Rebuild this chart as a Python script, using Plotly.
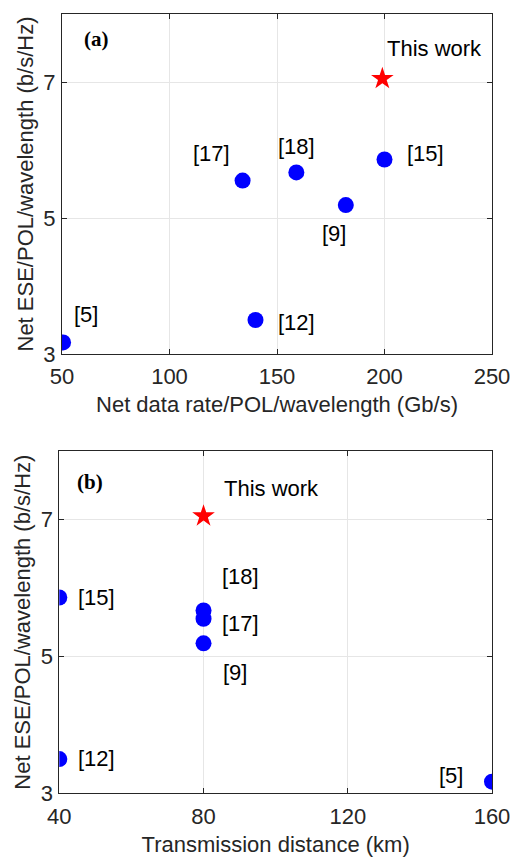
import plotly.graph_objects as go

# ---- data ----
refs = ["[5]", "[12]", "[9]", "[15]", "[17]", "[18]"]
ese = [3.17, 3.50, 5.19, 5.86, 5.55, 5.67]
rate = [50.5, 140, 182, 200, 134, 159]
dist = [160, 40, 80, 40, 80, 80]
this_label = "This work"
this_ese = 7.05
this_rate = 199
this_dist = 80

x1_ticks = [50, 100, 150, 200, 250]
x2_ticks = [40, 80, 120, 160]
y_ticks = [3, 5, 7]

# label offsets in pixels (dx, dy up) per reference for each panel
off_a = {"[5]": (23, 28), "[12]": (41, -2), "[9]": (-12, -28), "[15]": (41, 6),
         "[17]": (-31, 27), "[18]": (0, 26), this_label: (52, 30)}
off_b = {"[5]": (-41, 6), "[12]": (37, 1), "[9]": (31, -29), "[15]": (37, 0),
         "[17]": (37, -5), "[18]": (37, 34), this_label: (68, 28)}

W, H = 522, 858
FONT = "Liberation Sans, Arial, sans-serif"
AX = "#262626"
BLUE = "#0000FF"
RED = "#FF0000"

fig = go.Figure()
fig.add_trace(go.Scatter(x=rate, y=ese, mode="markers", xaxis="x", yaxis="y",
                         marker=dict(color=BLUE, size=16, symbol="circle"), showlegend=False))
fig.add_trace(go.Scatter(x=[this_rate], y=[this_ese], mode="markers", xaxis="x", yaxis="y",
                         marker=dict(color=RED, size=17, symbol="star"), showlegend=False))
fig.add_trace(go.Scatter(x=dist, y=ese, mode="markers", xaxis="x2", yaxis="y2",
                         marker=dict(color=BLUE, size=16, symbol="circle"), showlegend=False))
fig.add_trace(go.Scatter(x=[this_dist], y=[this_ese], mode="markers", xaxis="x2", yaxis="y2",
                         marker=dict(color=RED, size=17, symbol="star"), showlegend=False))

ann = []
for r, xv, yv in zip(refs + [this_label], rate + [this_rate], ese + [this_ese]):
    dx, dy = off_a[r]
    ann.append(dict(x=xv, y=yv, xref="x", yref="y", text=r, showarrow=False,
                    xanchor="center", yanchor="middle",
                    xshift=dx, yshift=dy, font=dict(family=FONT, size=22, color="black")))
for r, xv, yv in zip(refs + [this_label], dist + [this_dist], ese + [this_ese]):
    dx, dy = off_b[r]
    ann.append(dict(x=xv, y=yv, xref="x2", yref="y2", text=r, showarrow=False,
                    xanchor="center", yanchor="middle",
                    xshift=dx, yshift=dy, font=dict(family=FONT, size=22, color="black")))
ann.append(dict(x=96 / W, y=1 - 39 / H, xref="paper", yref="paper", text="<b>(a)</b>",
                xanchor="center", yanchor="middle", showarrow=False,
                font=dict(family="Liberation Serif, Times New Roman, serif", size=21, color="black")))
ann.append(dict(x=90 / W, y=1 - 482 / H, xref="paper", yref="paper", text="<b>(b)</b>",
                xanchor="center", yanchor="middle", showarrow=False,
                font=dict(family="Liberation Serif, Times New Roman, serif", size=21, color="black")))

common_ax = dict(showline=True, linecolor=AX, linewidth=1, mirror="allticks", ticks="inside",
                 ticklen=5, tickcolor=AX, showgrid=True, gridcolor="#E6E6E6", gridwidth=1,
                 zeroline=False, automargin=False,
                 tickfont=dict(family=FONT, size=22, color=AX),
                 title_font=dict(family=FONT, size=22, color=AX))

fig.update_layout(
    width=W, height=H, margin=dict(l=0, r=0, t=0, b=0),
    paper_bgcolor="white", plot_bgcolor="white",
    xaxis=dict(domain=[62 / W, 492 / W], range=[50, 250], tickvals=x1_ticks, anchor="y",
               ticklabelstandoff=3,
               title=dict(text="Net data rate/POL/wavelength (Gb/s)", standoff=8), **common_ax),
    yaxis=dict(domain=[1 - 354 / H, 1 - 14 / H], range=[3, 8], tickvals=y_ticks, anchor="x",
               ticklabelstandoff=1,
               title=dict(text="Net ESE/POL/wavelength (b/s/Hz)", standoff=3), **common_ax),
    xaxis2=dict(domain=[59.3 / W, 492 / W], range=[40, 160], tickvals=x2_ticks, anchor="y2",
                ticklabelstandoff=3,
                title=dict(text="Transmission distance (km)", standoff=8), **common_ax),
    yaxis2=dict(domain=[1 - 793.3 / H, 1 - 451 / H], range=[3, 8], tickvals=y_ticks, anchor="x2",
                ticklabelstandoff=1,
                title=dict(text="Net ESE/POL/wavelength (b/s/Hz)", standoff=3), **common_ax),
    annotations=ann,
)

fig.write_html("out.html", config={"displayModeBar": False},
               post_script="document.body.style.margin='0';document.body.style.overflow='hidden';")
